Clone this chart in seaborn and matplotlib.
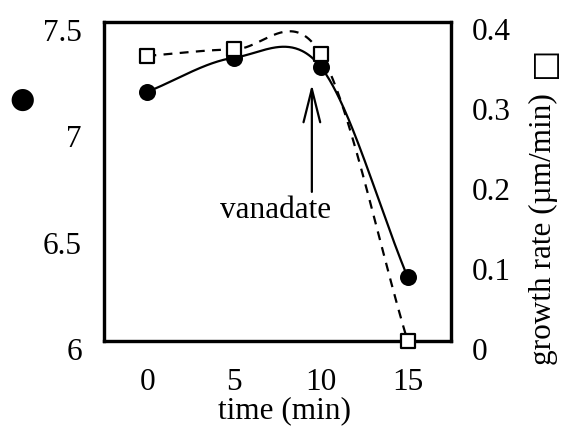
import numpy as np
import pandas as pd
import matplotlib
matplotlib.use("Agg")
import matplotlib.pyplot as plt
import matplotlib.transforms as mtransforms
import seaborn as sns

# ---- data ----
time_min = [0, 5, 10, 15]
circle_vals = [7.17, 7.33, 7.286, 6.30]        # left axis (filled circles)
growth_rate = [0.357, 0.365, 0.359, 0.0]       # right axis (open squares), µm/min
left_ticks = [6, 6.5, 7, 7.5]
left_ticklabels = ["6", "6.5", "7", "7.5"]
right_ticks = [0, 0.1, 0.2, 0.3, 0.4]
right_ticklabels = ["0", "0.1", "0.2", "0.3", "0.4"]
x_ticks = [0, 5, 10, 15]
x_label = "time (min)"
right_label = "growth rate (µm/min)"
annot_text = "vanadate"


def smooth_curve(x, y, n=80):
    """Catmull-Rom (cubic Hermite) curve through the data points."""
    x = np.asarray(x, float)
    y = np.asarray(y, float)
    k = len(x)
    m = np.zeros(k)
    m[0] = (y[1] - y[0]) / (x[1] - x[0])
    m[-1] = (y[-1] - y[-2]) / (x[-1] - x[-2])
    for i in range(1, k - 1):
        m[i] = (y[i + 1] - y[i - 1]) / (x[i + 1] - x[i - 1])
    xs_all, ys_all = [], []
    for i in range(k - 1):
        h = x[i + 1] - x[i]
        t = np.linspace(0, 1, n)
        h00 = 2 * t**3 - 3 * t**2 + 1
        h10 = t**3 - 2 * t**2 + t
        h01 = -2 * t**3 + 3 * t**2
        h11 = t**3 - t**2
        xs_all.append(x[i] + t * h)
        ys_all.append(h00 * y[i] + h10 * h * m[i] + h01 * y[i + 1] + h11 * h * m[i + 1])
    return np.concatenate(xs_all), np.concatenate(ys_all)


sns.set_theme(style="white")
plt.rcParams["font.family"] = ["Liberation Serif", "DejaVu Sans"]
for key in ("text.color", "axes.labelcolor", "xtick.color", "ytick.color",
            "axes.edgecolor"):
    plt.rcParams[key] = "black"
FS = 22.5

fig = plt.figure(figsize=(5.64, 4.27), dpi=100)
ax = fig.add_axes([104 / 564, 1 - 342 / 427, 347 / 564, 319.5 / 427])
ax2 = ax.twinx()

df_pts = pd.DataFrame({"time": time_min, "circle": circle_vals, "rate": growth_rate})
xs_c, ys_c = smooth_curve(time_min, circle_vals)
xs_r, ys_r = smooth_curve(time_min, growth_rate)
df_c = pd.DataFrame({"time": xs_c, "val": ys_c})
df_r = pd.DataFrame({"time": xs_r, "val": ys_r})

sns.lineplot(data=df_c, x="time", y="val", ax=ax, color="black", lw=1.6,
             sort=False, zorder=2)
sns.lineplot(data=df_r, x="time", y="val", ax=ax2, color="black", lw=1.6,
             sort=False, zorder=2)
ax2.lines[-1].set_dashes((4, 3.3))
sns.scatterplot(data=df_pts, x="time", y="circle", ax=ax, color="black",
                s=150, marker="o", edgecolor="black", linewidth=0, zorder=4)
sns.scatterplot(data=df_pts, x="time", y="rate", ax=ax2, facecolor="white",
                s=115, marker="s", edgecolor="black", linewidth=1.6, zorder=4,
                clip_on=False)

ax.set_xlim(-2.5, 17.5)
ax.set_ylim(6, 7.5)
ax2.set_ylim(0, 0.4)

ax.set_xticks(x_ticks)
ax.set_xticklabels([str(t) for t in x_ticks], fontsize=FS)
ax.set_yticks(left_ticks)
ax.set_yticklabels(left_ticklabels, fontsize=FS)
ax2.set_yticks(right_ticks)
ax2.set_yticklabels(right_ticklabels, fontsize=FS)
ax.tick_params(axis="x", length=0, pad=19)
ax.tick_params(axis="y", length=0, pad=16)
ax2.tick_params(axis="y", length=0, pad=15)

off = mtransforms.ScaledTranslation(0, -7 / 100, fig.dpi_scale_trans)
for lab in ax.get_yticklabels() + ax2.get_yticklabels():
    lab.set_transform(lab.get_transform() + off)

for a in (ax, ax2):
    for s in a.spines.values():
        s.set_linewidth(2.3)
        s.set_color("black")
    a.grid(False)

ax.set_xlabel(x_label, fontsize=FS)
ax.xaxis.set_label_coords((284 - 104) / 347, (342 - 396) / 320)
ax.xaxis.label.set_va("top")

ax.set_ylabel("●", fontsize=21, rotation=0, family=["DejaVu Sans"])
ax.yaxis.label.set_ha("center")
ax.yaxis.label.set_va("center")
ax.yaxis.set_label_coords((21.7 - 104) / 347, (342 - 99.3) / 320)

ax2.set_ylabel(right_label, fontsize=FS, rotation=90)
ax2.yaxis.label.set_ha("center")
ax2.yaxis.label.set_va("center")
ax2.yaxis.set_label_coords((543 - 104) / 347, (342 - 229) / 320)
fig.text(543 / 564, 1 - 62 / 427, "□", fontsize=24, rotation=90,
         ha="center", va="center", family=["DejaVu Sans"])

ax.annotate("", xy=(9.48, 7.205), xytext=(9.48, 6.70),
            arrowprops=dict(arrowstyle="->,head_length=2.4,head_width=0.6",
                            lw=1.6, color="black", mutation_scale=10,
                            shrinkA=0, shrinkB=0))
ax.text(7.36, 6.58, annot_text, fontsize=FS, ha="center", va="baseline")

fig.savefig("out.png", dpi=100)
